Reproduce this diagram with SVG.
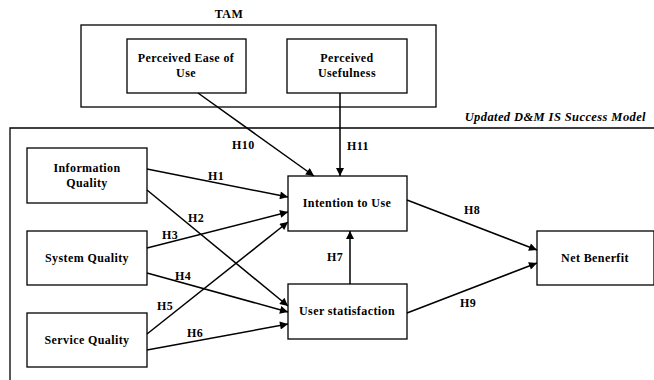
<svg xmlns="http://www.w3.org/2000/svg" width="654" height="380" viewBox="0 0 654 380">
<defs>
<marker id="ah" viewBox="0 0 10 10" refX="10" refY="5" markerWidth="11" markerHeight="8" markerUnits="userSpaceOnUse" orient="auto">
<path d="M0,0 L10,5 L0,10 z" fill="#000"/>
</marker>
<style>
.box{fill:#fff;stroke:#000;stroke-width:1.3}
.frame{fill:none;stroke:#000;stroke-width:1.3}
text{font-family:'Liberation Serif','Times New Roman',serif;font-weight:bold;font-size:12px;fill:#000;letter-spacing:0.4px}
.t{text-anchor:middle}
.c{stroke:#000;stroke-width:1.5;fill:none;marker-end:url(#ah)}
</style>
</defs>
<rect width="654" height="380" fill="#fff"/>
<g id="tam">
<rect class="frame" x="81" y="25" width="355" height="82"/>
<text class="t" x="229" y="18">TAM</text>
</g>
<g id="dm">
<path class="frame" d="M10,385 L10,128 L660,128"/>
<text x="646" y="121" text-anchor="end" font-style="italic" style="font-size:12.5px">Updated D&amp;M IS Success Model</text>
</g>
<g id="peu">
<rect class="box" x="127" y="39" width="119" height="54"/>
<text class="t" x="186" y="62">Perceived Ease of</text>
<text class="t" x="186" y="77">Use</text>
</g>
<g id="pu">
<rect class="box" x="287" y="39" width="120" height="54"/>
<text class="t" x="347" y="62">Perceived</text>
<text class="t" x="347" y="77">Usefulness</text>
</g>
<g id="iq">
<rect class="box" x="27" y="148" width="120" height="55"/>
<text class="t" x="87" y="172">Information</text>
<text class="t" x="87" y="187">Quality</text>
</g>
<g id="sq">
<rect class="box" x="27" y="231" width="120" height="54"/>
<text class="t" x="87" y="262">System Quality</text>
</g>
<g id="svq">
<rect class="box" x="27" y="313" width="120" height="54"/>
<text class="t" x="87" y="344">Service Quality</text>
</g>
<g id="itu">
<rect class="box" x="288" y="176" width="119" height="55"/>
<text class="t" x="347" y="207">Intention to Use</text>
</g>
<g id="us">
<rect class="box" x="288" y="284" width="119" height="55"/>
<text class="t" x="347" y="315">User statisfaction</text>
</g>
<g id="nb">
<rect class="box" x="537" y="231" width="117" height="54"/>
<text class="t" x="595" y="262">Net Benerfit</text>
</g>
<g id="connectors">
<line class="c" x1="198" y1="93" x2="314" y2="176"/>
<line class="c" x1="340" y1="93" x2="340" y2="176"/>
<line class="c" x1="147" y1="169" x2="288" y2="197"/>
<line class="c" x1="147" y1="190" x2="288" y2="306"/>
<line class="c" x1="147" y1="248" x2="288" y2="212"/>
<line class="c" x1="147" y1="273" x2="288" y2="312"/>
<line class="c" x1="147" y1="334" x2="288" y2="222"/>
<line class="c" x1="147" y1="350" x2="288" y2="324"/>
<line class="c" x1="350" y1="284" x2="350" y2="231"/>
<line class="c" x1="407" y1="200" x2="537" y2="250"/>
<line class="c" x1="407" y1="313" x2="537" y2="263"/>
<text x="232" y="149">H10</text>
<text x="347" y="150">H11</text>
<text x="208" y="180">H1</text>
<text x="188" y="222">H2</text>
<text x="162" y="239">H3</text>
<text x="175" y="280">H4</text>
<text x="157" y="310">H5</text>
<text x="187" y="337">H6</text>
<text x="327" y="261">H7</text>
<text x="464" y="214">H8</text>
<text x="460" y="307">H9</text>
</g>
</svg>
